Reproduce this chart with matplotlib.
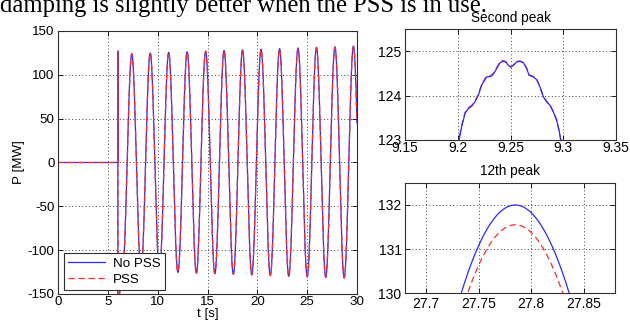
import numpy as np
import matplotlib
matplotlib.use("Agg")
import matplotlib.pyplot as plt

# ---------------- data ----------------
# pre-disturbance flat part and the spike at t = 6 s
pre_t = [0.0, 6.0, 6.004, 6.012]
pre_blue = [0.0, 0.0, 127.0, -160.0]
pre_red = [0.0, 0.0, 127.0, -160.0]

# oscillation extrema
trough_t = [6.47, 8.325, 10.175, 12.03, 13.88, 15.735, 17.59, 19.44,
            21.30, 23.15, 25.005, 26.86, 28.71, 30.565]
peak_t = [7.40, 9.25, 11.10, 12.955, 14.81, 16.66, 18.515, 20.37,
          22.225, 24.08, 25.93, 27.785, 29.64]

trough_blue = [-123.3, -124.0, -124.7, -125.4, -126.2, -126.9, -127.6, -128.3,
               -129.0, -129.8, -130.5, -131.2, -131.9, -132.6]
peak_blue = [124.1, 124.8, 125.5, 126.2, 127.0, 127.7, 128.4, 129.1,
             129.9, 130.6, 131.3, 132.0, 132.7]

trough_red = [-123.3, -124.0, -124.65, -125.3, -126.05, -126.7, -127.35, -128.0,
              -128.65, -129.4, -130.05, -130.7, -131.4, -132.05]
peak_red = [124.1, 124.8, 125.45, 126.1, 126.85, 127.5, 128.15, 128.8,
            129.5, 130.15, 130.8, 131.55, 132.2]

# detail of the second peak (both runs nearly identical)
sec_t = [9.1995, 9.2012, 9.2037, 9.2069, 9.2100, 9.2132, 9.2163, 9.2195, 9.2227,
         9.2274, 9.2312, 9.2337, 9.2369, 9.2400, 9.2426, 9.2454, 9.2479,
         9.2502, 9.2527, 9.2558, 9.2590, 9.2622, 9.2653, 9.2675, 9.2716,
         9.2748, 9.2780, 9.2811, 9.2843, 9.2874, 9.2906, 9.2938, 9.2963,
         9.2976, 9.2990]
sec_blue = [122.85, 123.00, 123.30, 123.60, 123.71, 123.76, 123.86, 124.01, 124.24,
            124.42, 124.43, 124.48, 124.61, 124.74, 124.77, 124.76, 124.68,
            124.64, 124.68, 124.76, 124.77, 124.74, 124.61, 124.46, 124.42,
            124.36, 124.19, 123.97, 123.86, 123.78, 123.63, 123.44, 123.18,
            123.00, 122.85]
sec_red = [122.87, 123.02, 123.33, 123.62, 123.73, 123.78, 123.88, 124.03, 124.26,
           124.44, 124.45, 124.50, 124.63, 124.76, 124.79, 124.77, 124.69,
           124.65, 124.69, 124.77, 124.78, 124.75, 124.62, 124.47, 124.43,
           124.37, 124.20, 123.98, 123.87, 123.79, 123.64, 123.45, 123.19,
           123.01, 122.86]

legend_labels = ["No PSS", "PSS"]


def knots(pre_v, troughs, peaks):
    kt = list(pre_t)
    kv = list(pre_v)
    for i in range(len(troughs)):
        kt.append(trough_t[i]); kv.append(troughs[i])
        if i < len(peaks):
            kt.append(peak_t[i]); kv.append(peaks[i])
    return np.array(kt), np.array(kv)


def curve(kt, kv, t):
    idx = np.clip(np.searchsorted(kt, t, side="right") - 1, 0, len(kt) - 2)
    t0, t1 = kt[idx], kt[idx + 1]
    v0, v1 = kv[idx], kv[idx + 1]
    s = np.clip((t - t0) / (t1 - t0), 0, 1)
    return v0 + (v1 - v0) * (1 - np.cos(np.pi * s)) / 2


kt_b, kv_b = knots(pre_blue, trough_blue, peak_blue)
kt_r, kv_r = knots(pre_red, trough_red, peak_red)
t = np.unique(np.concatenate([np.arange(0, 30.0005, 0.001), kt_b[kt_b <= 30]]))
pb = curve(kt_b, kv_b, t)
pr = curve(kt_r, kv_r, t)

# ---------------- style ----------------
plt.rcParams["font.family"] = ["Liberation Sans", "DejaVu Sans"]
plt.rcParams["axes.unicode_minus"] = False

BLUE = "#2a2aff"
RED = "#ff2a2a"
DASH = (0, (5, 3))

fig = plt.figure(figsize=(6.3, 3.29), dpi=100)

fig.text(0.0, 0.964, "damping is slightly better when the PSS is in use.",
         family=["Liberation Serif", "DejaVu Serif"], fontsize=17.7,
         ha="left", va="baseline")


def style(ax, fs):
    ax.grid(True, linestyle=(0, (1, 2.5)), color="#444444", linewidth=0.7)
    ax.tick_params(direction="in", top=True, right=True, length=3.5,
                   width=0.6, labelsize=fs, pad=2.5)
    for sp in ax.spines.values():
        sp.set_linewidth(0.8)
        sp.set_color("#303030")


# main axes
ax = fig.add_axes([0.0921, 0.1064, 0.4746, 0.7994])
ax.plot(t, pb, color=BLUE, lw=0.9, label=legend_labels[0])
ax.plot(t, pr, color=RED, lw=0.9, linestyle=DASH, label=legend_labels[1])
ax.set_xlim(0, 30)
ax.set_ylim(-150, 150)
ax.set_xticks(np.arange(0, 31, 5))
ax.set_yticks(np.arange(-150, 151, 50))
style(ax, 9.6)
ax.tick_params(axis="x", pad=1.5)
ax.set_xlabel("t [s]", fontsize=9.6, labelpad=0)
ax.set_ylabel("P [MW]", fontsize=9.6, labelpad=2)
leg = ax.legend(loc="lower left", bbox_to_anchor=(0.02, 0.015), fontsize=9.6,
                fancybox=False, framealpha=1, edgecolor="#303030",
                handlelength=2.8, labelspacing=0.3, borderpad=0.3,
                handletextpad=0.6, borderaxespad=0)
leg.get_frame().set_linewidth(0.8)

# second peak
ax1 = fig.add_axes([0.6429, 0.5745, 0.3349, 0.3374])
ax1.plot(sec_t, sec_red, color=RED, lw=0.9, linestyle=DASH)
ax1.plot(sec_t, sec_blue, color=BLUE, lw=0.9)
ax1.set_xlim(9.15, 9.35)
ax1.set_ylim(123, 125.5)
ax1.set_xticks([9.15, 9.2, 9.25, 9.3, 9.35])
ax1.set_xticklabels(["9.15", "9.2", "9.25", "9.3", "9.35"])
ax1.set_yticks([123, 124, 125])
style(ax1, 10)
ax1.tick_params(axis="x", pad=0.5)
ax1.set_title("Second peak", fontsize=9.8, pad=5)

# 12th peak
ax2 = fig.add_axes([0.6429, 0.1094, 0.3333, 0.3344])
m = (t >= 27.6) & (t <= 27.95)
ax2.plot(t[m], pb[m], color=BLUE, lw=0.9)
ax2.plot(t[m], pr[m], color=RED, lw=0.9, linestyle=DASH)
ax2.set_xlim(27.68, 27.88)
ax2.set_ylim(130, 132.5)
ax2.set_xticks([27.7, 27.75, 27.8, 27.85])
ax2.set_xticklabels(["27.7", "27.75", "27.8", "27.85"])
ax2.set_yticks([130, 131, 132])
style(ax2, 10)
ax2.tick_params(axis="x", pad=3)
ax2.set_title("12th peak", fontsize=9.8, pad=6)

fig.savefig("out.png", dpi=100)
